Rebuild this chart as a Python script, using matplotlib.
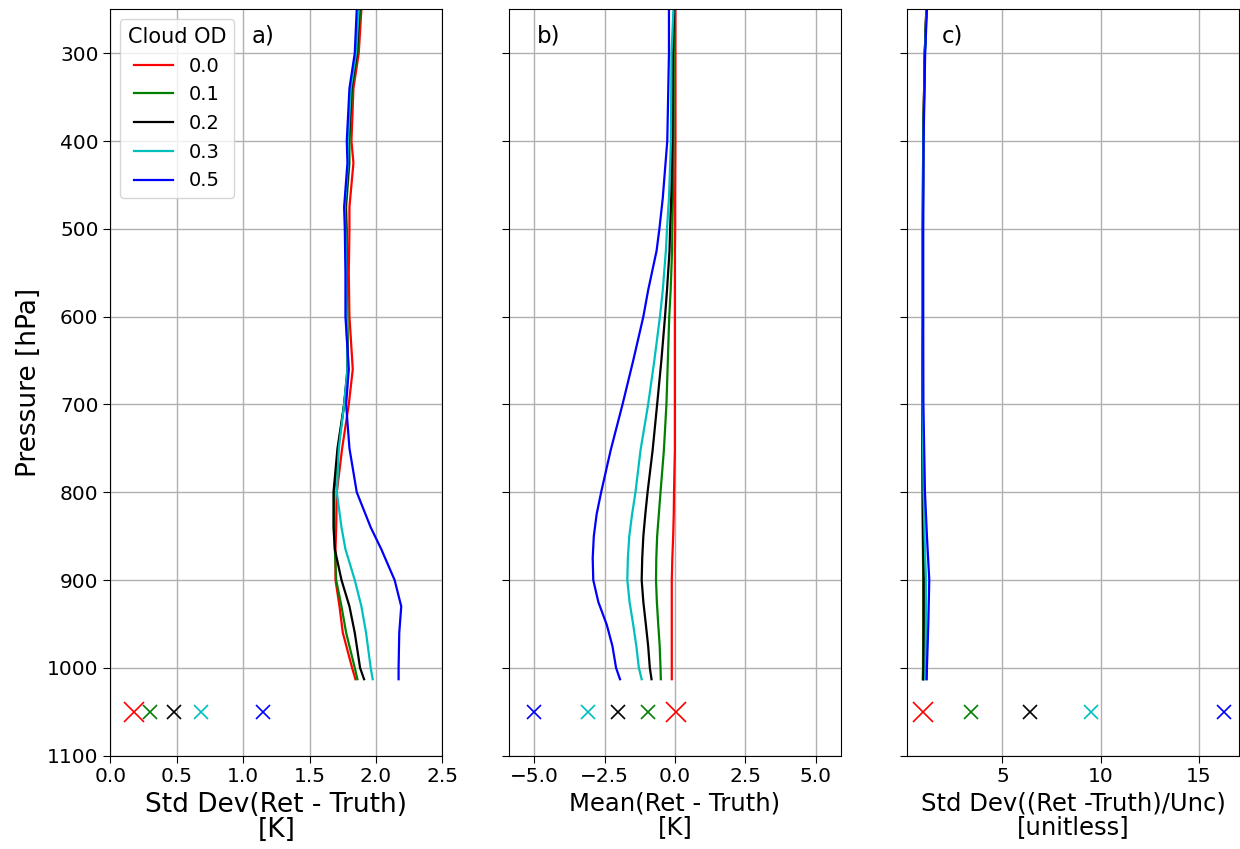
import matplotlib
matplotlib.use("Agg")
import matplotlib.pyplot as plt

# cloud optical depths and line colours
cloud_od = ["0.0", "0.1", "0.2", "0.3", "0.5"]
colors = ["red", "green", "black", "c", "blue"]

# a) std dev of (retrieval - truth) [K]
p_a = [250, 300, 340, 400, 425, 475, 500, 550, 600, 660, 700, 750, 800, 840, 865, 900, 930, 960, 1000, 1013]
std_red = [1.89, 1.87, 1.83, 1.815, 1.83, 1.80, 1.80, 1.795, 1.80, 1.825, 1.795, 1.745, 1.705, 1.70, 1.695, 1.695, 1.725, 1.75, 1.82, 1.845]
std_green = [1.88, 1.86, 1.82, 1.80, 1.80, 1.775, 1.78, 1.78, 1.785, 1.79, 1.76, 1.715, 1.685, 1.685, 1.69, 1.70, 1.74, 1.775, 1.84, 1.86]
std_black = [1.875, 1.855, 1.815, 1.795, 1.795, 1.77, 1.775, 1.775, 1.78, 1.785, 1.76, 1.71, 1.68, 1.68, 1.69, 1.74, 1.80, 1.84, 1.88, 1.91]
std_cyan = [1.87, 1.85, 1.81, 1.79, 1.79, 1.765, 1.77, 1.775, 1.78, 1.785, 1.76, 1.72, 1.705, 1.74, 1.77, 1.84, 1.89, 1.925, 1.96, 1.975]
std_blue = [1.855, 1.84, 1.80, 1.78, 1.785, 1.76, 1.765, 1.77, 1.77, 1.795, 1.775, 1.80, 1.855, 1.96, 2.04, 2.14, 2.19, 2.175, 2.17, 2.17]
std_x = [0.18, 0.30, 0.48, 0.68, 1.15]

# b) mean(retrieval - truth) [K]
p_b = [250, 300, 400, 465, 500, 525, 570, 600, 650, 700, 752, 800, 825, 850, 875, 900, 925, 951, 975, 1000, 1013]
mean_red = [0.02, 0.02, 0.02, 0.01, 0.01, 0.0, 0.0, 0.0, 0.0, 0.0, 0.0, -0.03, -0.04, -0.06, -0.09, -0.11, -0.11, -0.11, -0.11, -0.11, -0.11]
mean_green = [-0.02, -0.04, -0.05, -0.07, -0.09, -0.10, -0.15, -0.20, -0.25, -0.30, -0.39, -0.51, -0.57, -0.63, -0.66, -0.67, -0.64, -0.59, -0.54, -0.51, -0.50]
mean_black = [-0.03, -0.07, -0.09, -0.13, -0.17, -0.19, -0.28, -0.35, -0.48, -0.63, -0.79, -0.97, -1.05, -1.12, -1.16, -1.18, -1.12, -1.03, -0.95, -0.89, -0.83]
mean_cyan = [-0.05, -0.12, -0.14, -0.21, -0.28, -0.32, -0.43, -0.53, -0.73, -0.95, -1.22, -1.40, -1.52, -1.62, -1.67, -1.69, -1.61, -1.48, -1.37, -1.28, -1.18]
mean_blue = [-0.21, -0.21, -0.27, -0.43, -0.55, -0.65, -0.95, -1.12, -1.48, -1.86, -2.28, -2.62, -2.78, -2.88, -2.92, -2.90, -2.72, -2.42, -2.22, -2.09, -1.95]
mean_x = [0.04, -0.96, -2.02, -3.09, -5.0]

# c) std dev of (retrieval - truth)/uncertainty [unitless]
p_c = [250, 300, 400, 500, 600, 700, 800, 850, 900, 950, 1000, 1013]
norm_red = [1.12, 1.04, 0.96, 0.94, 0.94, 0.92, 0.93, 0.94, 0.96, 0.96, 0.95, 0.94]
norm_green = [1.12, 1.04, 0.96, 0.94, 0.94, 0.92, 0.93, 0.95, 0.97, 0.97, 0.96, 0.95]
norm_black = [1.12, 1.04, 0.96, 0.94, 0.94, 0.92, 0.94, 0.96, 0.99, 0.99, 0.98, 0.97]
norm_cyan = [1.13, 1.05, 0.97, 0.95, 0.95, 0.93, 0.98, 1.03, 1.10, 1.10, 1.08, 1.07]
norm_blue = [1.15, 1.06, 0.98, 0.96, 0.96, 0.97, 1.05, 1.15, 1.27, 1.22, 1.15, 1.14]
norm_x = [0.97, 3.41, 6.42, 9.49, 16.3]

p_marker = 1050

std_lines = [std_red, std_green, std_black, std_cyan, std_blue]
mean_lines = [mean_red, mean_green, mean_black, mean_cyan, mean_blue]
norm_lines = [norm_red, norm_green, norm_black, norm_cyan, norm_blue]

fig, axes = plt.subplots(1, 3, sharey=True, figsize=(12.4, 8.49), dpi=100)
fig.subplots_adjust(left=0.089, right=0.9995, bottom=0.11, top=0.989, wspace=0.2)

panels = [
    (axes[0], p_a, std_lines, std_x, "a)", 0.425),
    (axes[1], p_b, mean_lines, mean_x, "b)", 0.084),
    (axes[2], p_c, norm_lines, norm_x, "c)", 0.105),
]

for ax, p, lines, xs, tag, tx in panels:
    for i in range(5):
        ax.plot(lines[i], p, color=colors[i], lw=1.6, label=cloud_od[i])
        ms = 15 if i == 0 else 10
        ax.plot(xs[i], p_marker, marker="x", color=colors[i], ms=ms, mew=1.2, ls="none")
    ax.grid(True, color="#b0b0b0", lw=1.0)
    ax.tick_params(labelsize=14.5, length=5)
    ax.text(tx, 0.964, tag, transform=ax.transAxes, fontsize=16.5, va="center")

ax1, ax2, ax3 = axes
ax1.set_ylim(1100, 250)
ax1.set_yticks(range(300, 1101, 100))
ax1.set_ylabel("Pressure [hPa]", fontsize=19)

ax1.set_xlim(0, 2.5)
ax1.set_xlabel("Std Dev(Ret - Truth)\n[K]", fontsize=19, linespacing=0.95)
ax1.legend(title="Cloud OD", loc="upper left", fontsize=14, title_fontsize=15,
           handlelength=2.0, borderaxespad=0.5)

ax2.set_xlim(-5.9, 5.9)
ax2.set_xticks([-5.0, -2.5, 0.0, 2.5, 5.0])
ax2.set_xlabel("Mean(Ret - Truth)\n[K]", fontsize=17.5, linespacing=0.95)

ax3.set_xticks([5, 10, 15])
ax3.set_xlabel("Std Dev((Ret -Truth)/Unc)\n[unitless]", fontsize=17.5, linespacing=0.95)

fig.savefig("out.png", dpi=100)
